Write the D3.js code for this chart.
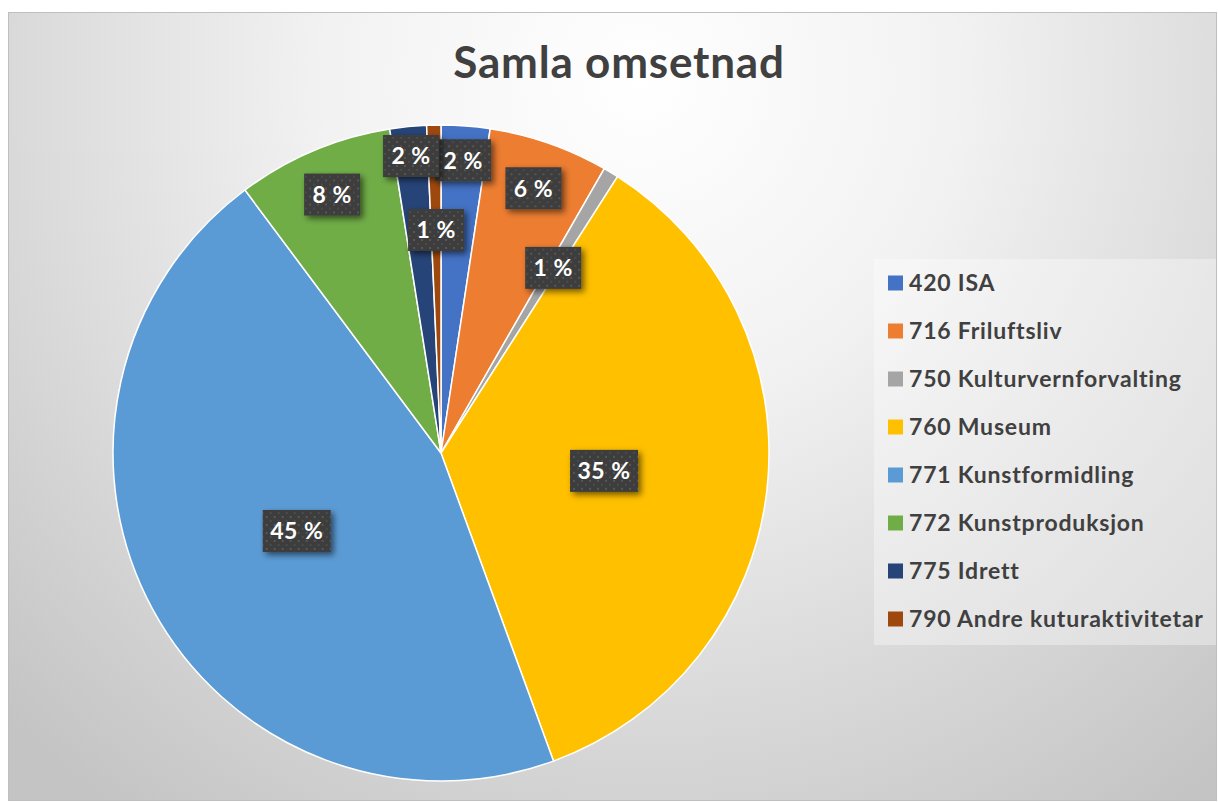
<!DOCTYPE html>
<html><head><meta charset="utf-8">
<script src="https://cdn.jsdelivr.net/npm/d3@7"></script>
<style>
html,body{margin:0;padding:0;background:#fff;}
svg{display:block;}
</style></head>
<body>
<script>
// ---- data ----
const title = "Samla omsetnad";
const categories = ["420 ISA","716 Friluftsliv","750 Kulturvernforvalting","760 Museum","771 Kunstformidling","772 Kunstproduksjon","775 Idrett","790 Andre kuturaktivitetar"];
const values = [2.4, 5.9, 0.75, 35.4, 45.4, 7.7, 1.8, 0.7];
const colors = ["#4472C4","#ED7D31","#A5A5A5","#FFC000","#5B9BD5","#70AD47","#264478","#9E480E"];

// ---- layout ----
const W = 1218, H = 802;
const cx = 441, cy = 453, R = 328;
const labelRadiusFrac = [0.895, 0.855, 0.66, 0.5, 0.5, 0.855, 0.91, 0.68];
const fontFam = "Lato, 'Open Sans', sans-serif";

const svg = d3.select("body").append("svg").attr("width", W).attr("height", H);
const defs = svg.append("defs");

const bg = defs.append("radialGradient").attr("id","bg")
  .attr("gradientUnits","userSpaceOnUse").attr("cx",640).attr("cy",80).attr("r",900);
bg.append("stop").attr("offset","0").attr("stop-color","#ffffff");
bg.append("stop").attr("offset","0.35").attr("stop-color","#f2f2f2");
bg.append("stop").attr("offset","1").attr("stop-color","#c4c4c4");

const pat = defs.append("pattern").attr("id","dots").attr("patternUnits","userSpaceOnUse")
  .attr("width",8).attr("height",8);
pat.append("rect").attr("width",8).attr("height",8).attr("fill","#3d3d3d");
pat.append("rect").attr("x",1).attr("y",1).attr("width",2).attr("height",2).attr("fill","#565656");
pat.append("rect").attr("x",5).attr("y",5).attr("width",2).attr("height",2).attr("fill","#4b4b4b");

const sh = defs.append("filter").attr("id","shadow").attr("x","-30%").attr("y","-30%").attr("width","170%").attr("height","170%");
sh.append("feDropShadow").attr("dx",3).attr("dy",3).attr("stdDeviation",3).attr("flood-color","#000").attr("flood-opacity",0.55);

// background
svg.append("rect").attr("x",8.5).attr("y",12.5).attr("width",1208).attr("height",788)
  .attr("fill","url(#bg)").attr("stroke","#bfbfbf").attr("stroke-width",1);

// title
svg.append("text").attr("x",619).attr("y",78).attr("text-anchor","middle")
  .attr("font-family",fontFam).attr("font-weight","bold").attr("font-size",44)
  .attr("letter-spacing",0.8)
  .attr("fill","#404040").text(title);

// pie
const data = categories.map((c,i)=>({cat:c, value:values[i], color:colors[i], i}));
const total = d3.sum(values);
const pie = d3.pie().value(d=>d.value).sort(null);
const arcs = pie(data);
const arc = d3.arc().innerRadius(0).outerRadius(R);
const g = svg.append("g").attr("transform",`translate(${cx},${cy})`);
g.selectAll("path.slice").data(arcs).join("path").attr("class","slice")
  .attr("d",arc).attr("fill",d=>d.data.color).attr("stroke","#fff").attr("stroke-width",1.5);

// labels
const fmt = v => Math.round(v/total*100) + " %";
const lg = g.selectAll("g.lbl").data(arcs).join("g").attr("class","lbl")
  .attr("transform", d=>{
    const r = R*labelRadiusFrac[d.index];
    const a = (d.startAngle+d.endAngle)/2;
    return `translate(${r*Math.sin(a)},${-r*Math.cos(a)})`;
  });
lg.each(function(d){
  const s = d3.select(this);
  const t = fmt(d.data.value);
  const w = t.length>3 ? 68 : 56;
  s.append("rect").attr("x",-w/2).attr("y",-21).attr("width",w).attr("height",42)
    .attr("fill","url(#dots)").attr("filter","url(#shadow)");
  s.append("text").attr("text-anchor","middle").attr("dy","0.36em")
    .attr("font-family",fontFam).attr("font-weight","bold").attr("font-size",23)
    .attr("letter-spacing",0.5)
    .attr("fill","#fff").text(t);
});

// legend
const leg = svg.append("g");
leg.append("rect").attr("x",874).attr("y",259).attr("width",342).attr("height",386)
  .attr("fill","#ffffff").attr("fill-opacity",0.35);
const items = leg.selectAll("g.item").data(data).join("g").attr("class","item")
  .attr("transform",(d,i)=>`translate(888,${283 + i*48})`);
items.append("rect").attr("x",0).attr("y",-7.5).attr("width",15).attr("height",15).attr("fill",d=>d.color);
items.append("text").attr("x",21).attr("dy","0.36em")
  .attr("font-family",fontFam).attr("font-weight","bold").attr("font-size",23)
  .attr("letter-spacing",0.8)
  .attr("fill","#404040").text(d=>d.cat);
</script>
</body></html>
